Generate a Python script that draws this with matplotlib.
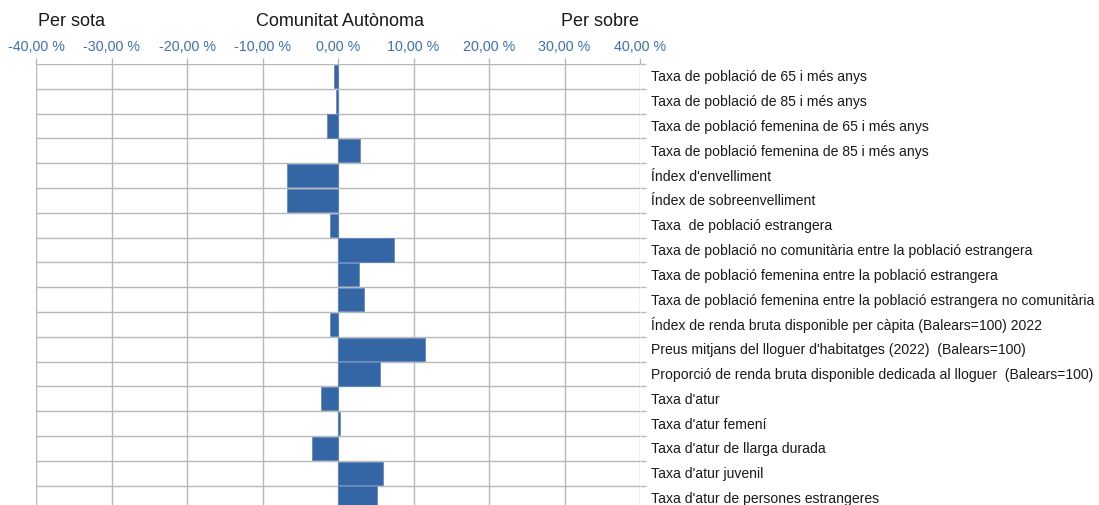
import matplotlib.pyplot as plt
import numpy as np

plt.rcParams['font.family'] = ['Liberation Sans', 'DejaVu Sans']

# indicators (top to bottom) and their deviation from the Comunitat Autònoma, in %
labels = [
    "Taxa de població de 65 i més anys",
    "Taxa de població de 85 i més anys",
    "Taxa de població femenina de 65 i més anys",
    "Taxa de població femenina de 85 i més anys",
    "Índex d'envelliment",
    "Índex de sobreenvelliment",
    "Taxa  de població estrangera",
    "Taxa de població no comunitària entre la població estrangera",
    "Taxa de població femenina entre la població estrangera",
    "Taxa de població femenina entre la població estrangera no comunitària",
    "Índex de renda bruta disponible per càpita (Balears=100) 2022",
    "Preus mitjans del lloguer d'habitatges (2022)  (Balears=100)",
    "Proporció de renda bruta disponible dedicada al lloguer  (Balears=100)",
    "Taxa d'atur",
    "Taxa d'atur femení",
    "Taxa d'atur de llarga durada",
    "Taxa d'atur juvenil",
    "Taxa d'atur de persones estrangeres",
]
values = [-0.5, -0.2, -1.5, 2.9, -6.8, -6.8, -1.1, 7.4, 2.8,
          3.4, -1.0, 11.5, 5.5, -2.2, 0.2, -3.5, 5.9, 5.1]
xticks = [-40, -30, -20, -10, 0, 10, 20, 30, 40]

W, H = 1099, 506
fig = plt.figure(figsize=(W / 100, H / 100), dpi=100)

row_h = 24.8
n = len(labels)
top = 65
ax_h = n * row_h
ax = fig.add_axes([36 / W, (H - top - ax_h) / H, 604 / W, ax_h / H])

y = np.arange(n)
ax.barh(y, values, height=0.93, color='#3465a4', edgecolor='#5a84bd', linewidth=0.5, zorder=3)

ax.set_xlim(-40, 40)
ax.set_ylim(n - 0.5, -0.5)
for s in ax.spines.values():
    s.set_visible(False)

grid_c = '#b8b8b8'
ax.xaxis.tick_top()
ax.set_xticks(xticks)
ax.set_xticklabels([f"{v},00 %" for v in xticks])
ax.tick_params(axis='x', direction='out', length=4.3, width=1.0, color=grid_c,
               labelsize=10.3, labelcolor='#3f6fb5', pad=3.5)
ax.grid(axis='x', color=grid_c, linewidth=1.0, zorder=0)

ax.yaxis.tick_right()
ax.set_yticks(y)
ax.set_yticklabels(labels)
ax.set_yticks(np.arange(-0.5, n, 1), minor=True)
ax.tick_params(axis='y', which='major', length=0, labelsize=10.05, labelcolor='#1a1a1a', pad=8)
ax.tick_params(axis='y', which='minor', direction='out', length=4.3, width=1.0, color=grid_c)
for lab in ax.get_yticklabels():
    lab.set_horizontalalignment('left')
    lab.set_verticalalignment('center')
ax.grid(axis='y', which='minor', color=grid_c, linewidth=1.0, zorder=0)

fig.text(72 / W, 1 - 21.5 / H, "Per sota", ha='center', va='center', fontsize=13, color='#1a1a1a')
fig.text(340 / W, 1 - 21.5 / H, "Comunitat Autònoma", ha='center', va='center', fontsize=13, color='#1a1a1a')
fig.text(600 / W, 1 - 21.5 / H, "Per sobre", ha='center', va='center', fontsize=13, color='#1a1a1a')

fig.savefig("out.png", dpi=100)
